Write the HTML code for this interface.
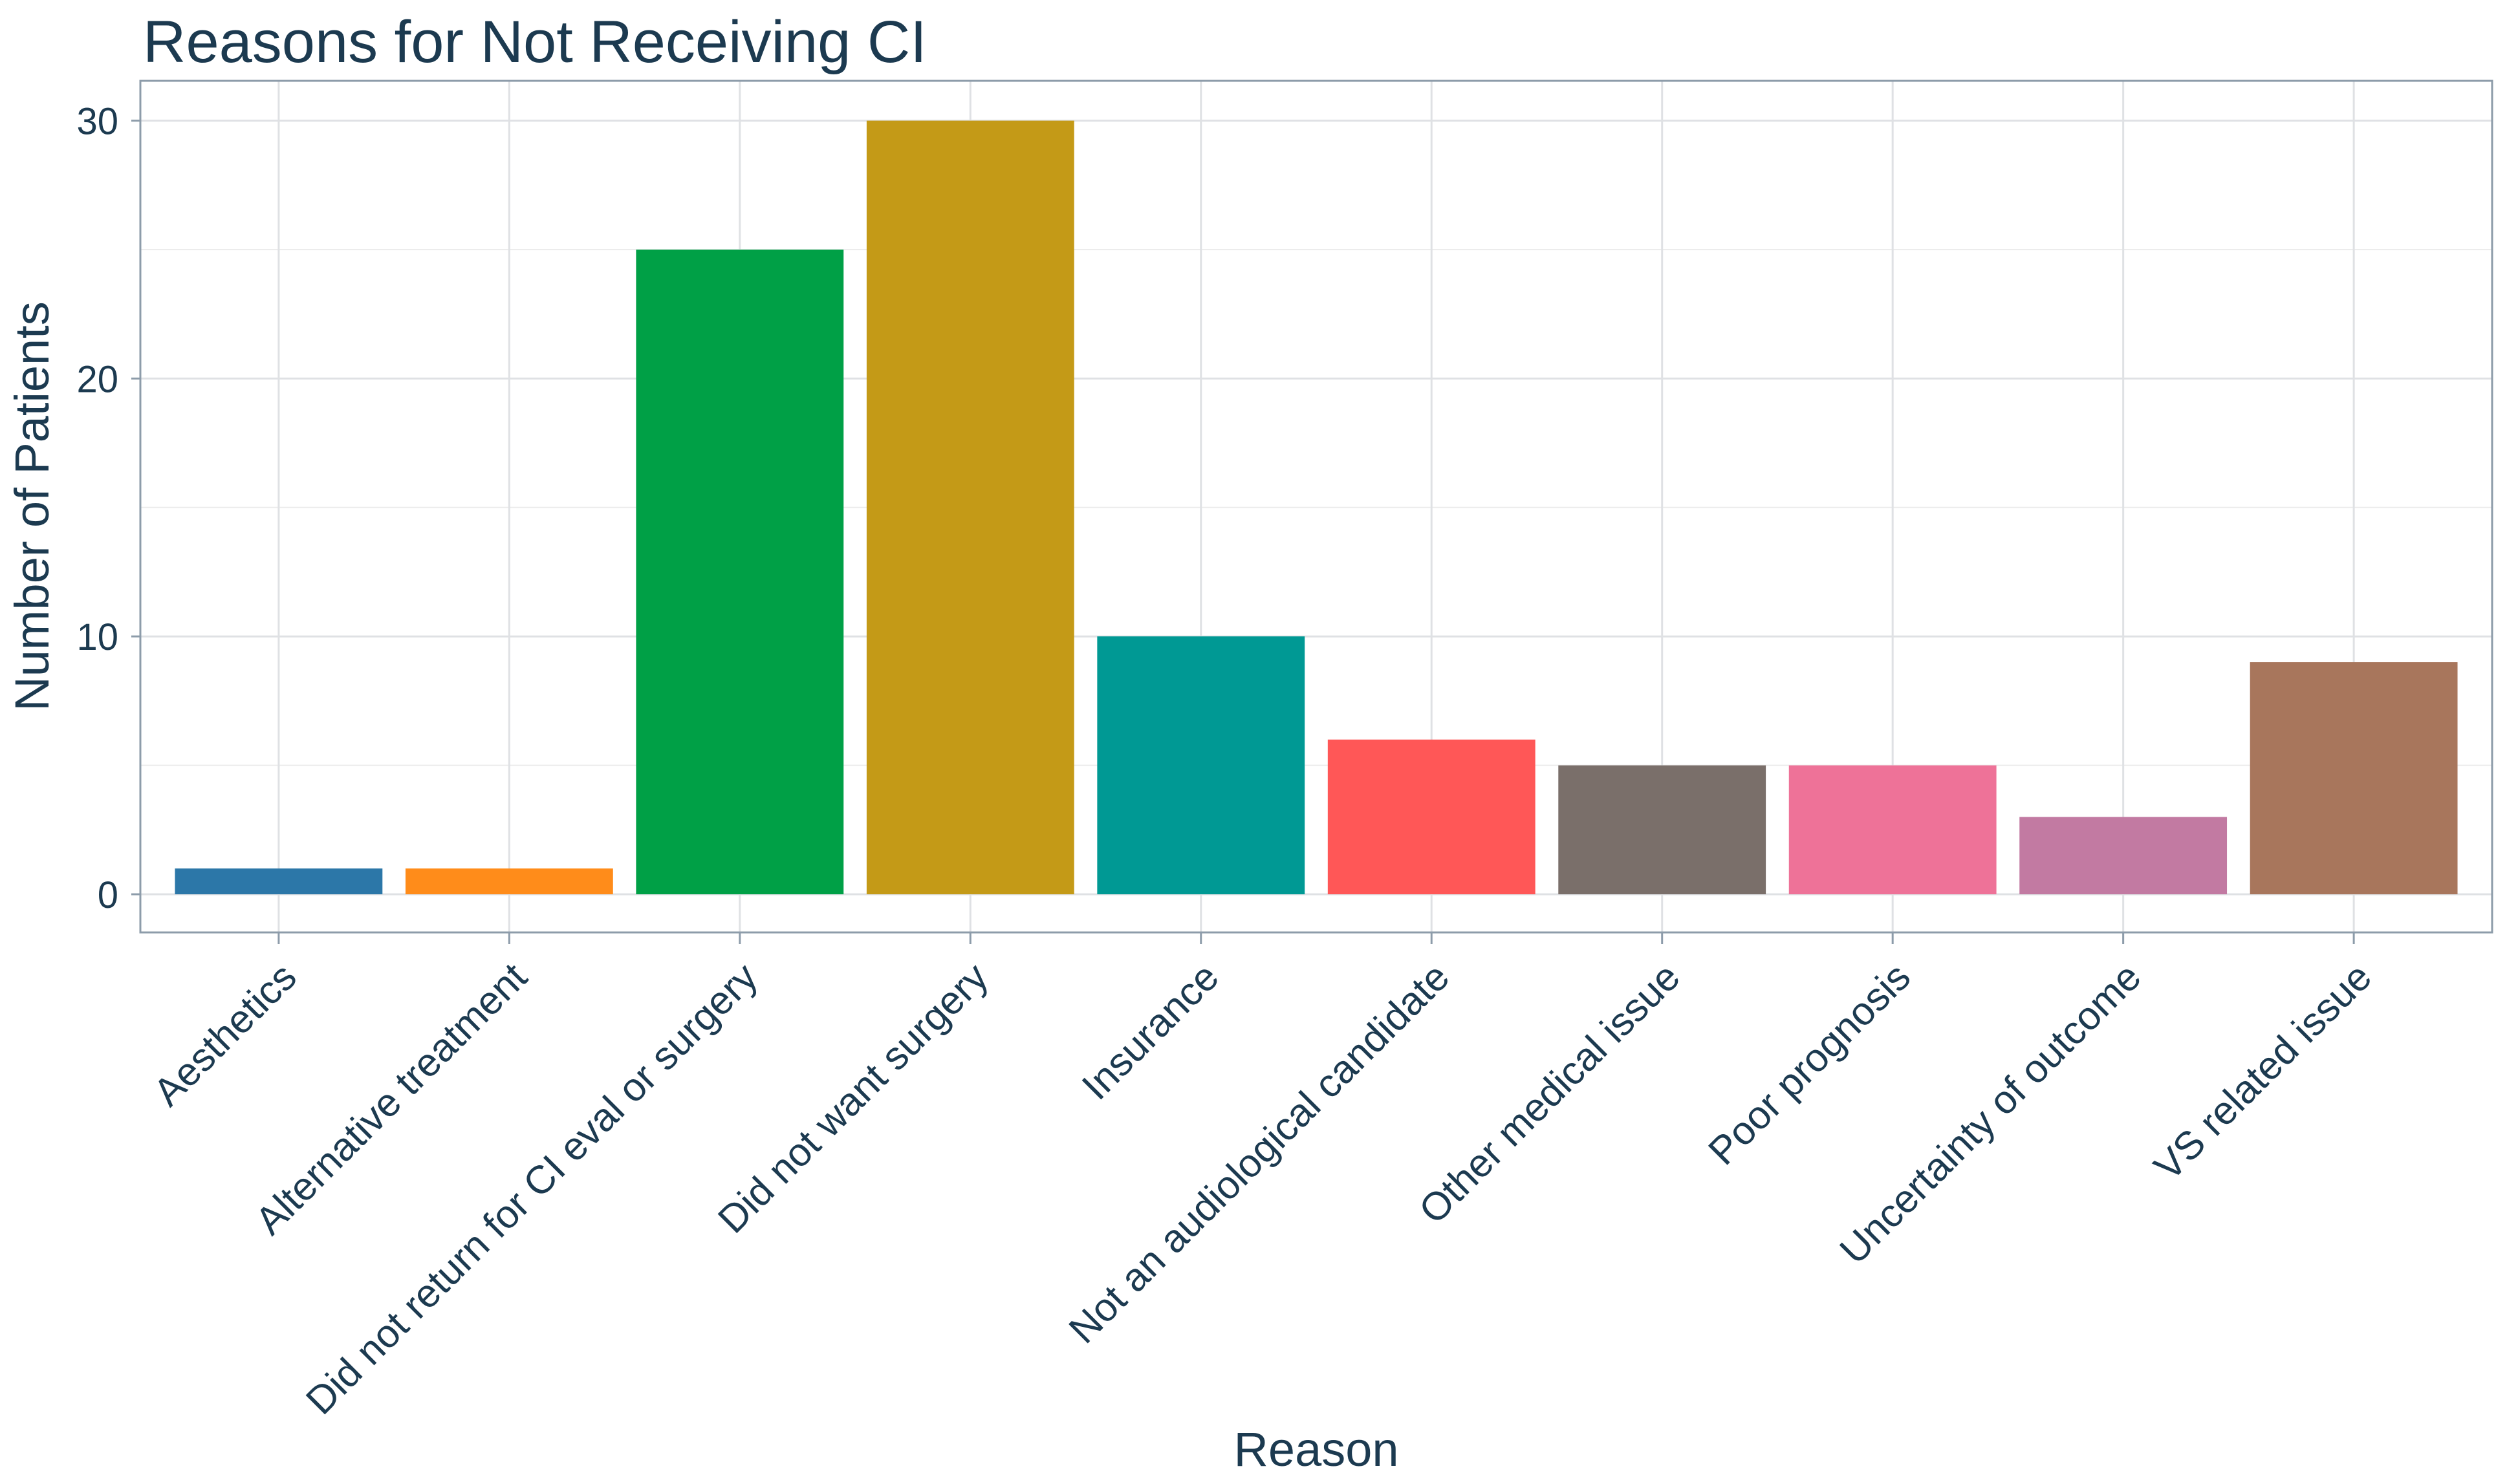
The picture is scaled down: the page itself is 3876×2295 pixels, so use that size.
<!DOCTYPE html>
<html><head><meta charset="utf-8"><style>
html,body{margin:0;padding:0;background:#fff;}
svg{display:block;font-family:"Liberation Sans",sans-serif;}
</style></head><body>
<svg id="chart" width="3876" height="2295" viewBox="0 0 3876 2295" xmlns="http://www.w3.org/2000/svg">
<rect x="0" y="0" width="3876" height="2295" fill="#ffffff"/>
<text x="221" y="96" font-size="92" fill="#1c3a50">Reasons for Not Receiving CI</text>
<g id="grid"></g>
<g id="bars"></g>
<rect x="217" y="125" width="3636" height="1317" fill="none" stroke="#8d9caa" stroke-width="3"/>
<g id="axes"></g>
<text transform="translate(75,783) rotate(-90)" text-anchor="middle" font-size="74" fill="#1c3a50">Number of Patients</text>
<text x="2035" y="2267" text-anchor="middle" font-size="74" fill="#1c3a50">Reason</text>
</svg>
<script>
const categories = ["Aesthetics","Alternative treatment","Did not return for CI eval or surgery","Did not want surgery","Insurance","Not an audiological candidate","Other medical issue","Poor prognosis","Uncertainty of outcome","VS related issue"];
const values = [1,1,25,30,10,6,5,5,3,9];
const colors = ["#2c77a8","#ff8c1a","#00a046","#c49a17","#009994","#ff5757","#7a6f6a","#ee7298","#c27aa2","#a8765c"];
const yTicks = [0,10,20,30];
const yMinor = [5,15,25];

const NS = "http://www.w3.org/2000/svg";
const L = 217, R = 3853, T = 125, B = 1442;
const y0px = 1383, perUnit = 39.88;
function yScale(v){ return y0px - v * perUnit; }
const step = (R - L) / (categories.length - 1 + 1.2);
function xScale(i){ return L + step * (i + 0.6); }
const bw = step * 0.9;

function mk(tag, attrs, parent){
  const e = document.createElementNS(NS, tag);
  for (const k in attrs) e.setAttribute(k, attrs[k]);
  parent.appendChild(e);
  return e;
}
const grid = document.getElementById('grid');
const bars = document.getElementById('bars');
const axes = document.getElementById('axes');

yMinor.forEach(v => {
  const l = mk('line', {x1:L, x2:R, y1:yScale(v), y2:yScale(v), stroke:'#ececec', 'stroke-width':2}, grid);
  
  
});
yTicks.forEach(v => {
  const l = mk('line', {x1:L, x2:R, y1:yScale(v), y2:yScale(v), stroke:'#dfe1e4', 'stroke-width':3}, grid);
  
  
  const tk = mk('line', {x1:L-14, x2:L, y1:yScale(v), y2:yScale(v), stroke:'#8d9caa', 'stroke-width':3}, axes);
  
  
  const t = mk('text', {x:183, y:yScale(v)+21, 'text-anchor':'end', 'font-size':58, fill:'#1c3a50'}, axes);
  t.textContent = v;
  
  
});
categories.forEach((c, i) => {
  const cx = xScale(i);
  const g = mk('line', {x1:cx, x2:cx, y1:T, y2:B, stroke:'#dfe1e4', 'stroke-width':3}, grid);
  
  
  const r = mk('rect', {x:cx-bw/2, y:yScale(values[i]), width:bw, height:yScale(0)-yScale(values[i]), fill:colors[i]}, bars);
  
  
  const tk = mk('line', {x1:cx, x2:cx, y1:B, y2:B+18, stroke:'#8d9caa', 'stroke-width':3}, axes);
  
  
  const t = mk('text', {transform:'translate(' + (cx+31) + ',' + (B+73) + ') rotate(-45)', 'text-anchor':'end', 'font-size':61, fill:'#1c3a50'}, axes);
  t.textContent = c;
  
  
});
</script>
</body></html>
